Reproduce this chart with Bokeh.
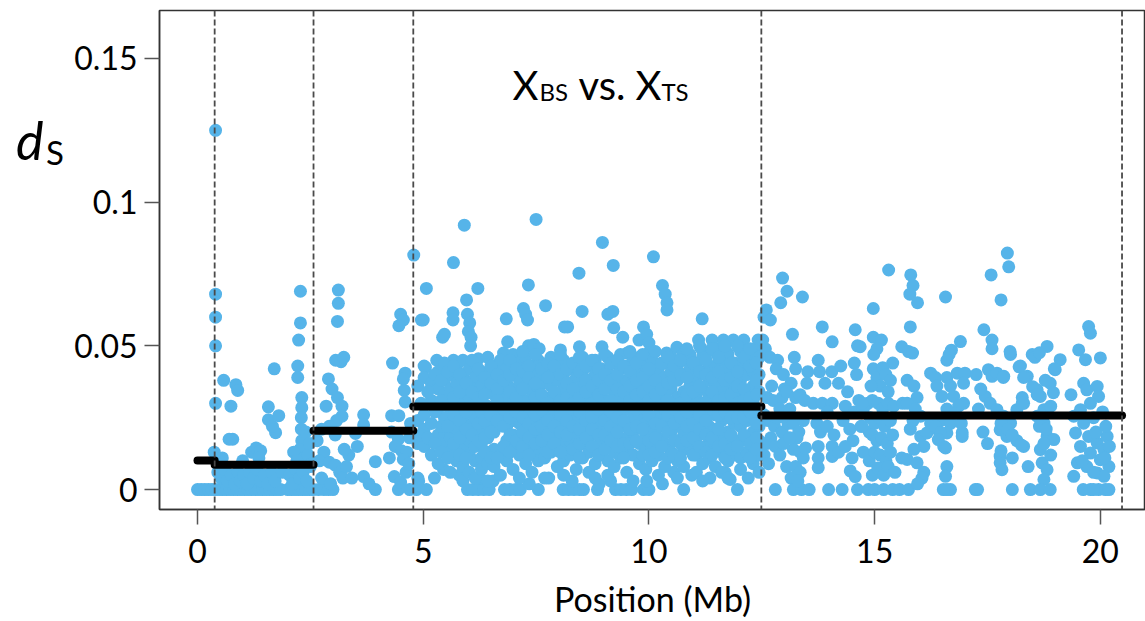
from bokeh.plotting import figure
from bokeh.models import ColumnDataSource, Span, Label, FixedTicker, Range1d, Div
from bokeh.layouts import row
from bokeh.embed import file_html
from bokeh.resources import INLINE

# ---------------- data (Position in Mb, dS) ----------------
seg1_points = [
    (0.0, 0), (0.08, 0), (0.16, 0), (0.24, 0), (0.32, 0), (0.40, 0), (0.48, 0), (0.56, 0),
    (0.64, 0), (0.72, 0), (0.80, 0), (0.88, 0), (0.96, 0), (1.04, 0), (1.12, 0), (1.20, 0),
    (1.28, 0), (1.36, 0), (1.44, 0), (1.52, 0), (1.60, 0), (1.68, 0), (1.76, 0), (1.84, 0),
    (2.00, 0), (2.08, 0), (2.16, 0), (2.24, 0), (2.32, 0), (2.40, 0), (2.48, 0), (2.56, 0),
    (0.40, 0.125), (0.40, 0.068), (0.40, 0.060), (0.40, 0.050), (0.40, 0.030), (0.37, 0.013), (0.42, 0.010),
    (0.58, 0.038), (0.85, 0.0365), (0.89, 0.0345), (0.74, 0.029), (0.70, 0.0175), (0.78, 0.0175),
    (0.45, 0.006), (0.52, 0.004), (0.60, 0.007), (0.66, 0.003), (0.75, 0.005), (0.82, 0.002),
    (0.90, 0.006), (0.95, 0.003), (1.02, 0.005), (1.10, 0.002), (1.16, 0.006), (1.24, 0.004),
    (1.32, 0.007), (1.40, 0.003), (1.48, 0.005), (1.56, 0.002), (1.64, 0.006), (1.72, 0.003),
    (1.88, 0.006), (2.04, 0.005), (2.10, 0.002), (2.18, 0.007), (2.26, 0.004), (2.34, 0.006),
    (2.42, 0.003), (2.50, 0.008),
    (0.55, 0.011), (1.00, 0.010), (1.20, 0.013), (1.30, 0.0145), (1.40, 0.0135), (1.36, 0.011),
    (1.70, 0.042), (1.57, 0.0288), (1.57, 0.0243), (1.80, 0.0257), (1.73, 0.0198), (1.66, 0.022),
    (2.28, 0.069), (2.28, 0.058), (2.24, 0.052), (2.22, 0.043), (2.22, 0.039), (2.31, 0.032),
    (2.31, 0.0285), (2.30, 0.025), (2.30, 0.021), (2.31, 0.017), (2.27, 0.014), (2.13, 0.013),
    (2.36, 0.011), (2.20, 0.010), (2.45, 0.012), (2.52, 0.009), (2.40, 0.020), (2.48, 0.016),
]

seg2_points = [
    (2.68, 0), (2.80, 0), (2.90, 0), (3.00, 0), (3.94, 0), (4.45, 0), (4.70, 0),
    (3.12, 0.0694), (3.12, 0.0648), (3.10, 0.0585), (3.06, 0.045), (3.18, 0.0445), (3.24, 0.046),
    (2.90, 0.0385), (2.98, 0.035), (3.10, 0.032), (2.85, 0.029), (3.20, 0.029), (3.20, 0.0255),
    (3.08, 0.024), (2.92, 0.022), (3.05, 0.019), (3.68, 0.026), (3.68, 0.0225), (3.50, 0.0195),
    (3.54, 0.015), (2.80, 0.013), (2.70, 0.010), (2.92, 0.0095), (3.05, 0.0085), (3.15, 0.006),
    (3.22, 0.004), (2.75, 0.004), (2.95, 0.002), (3.68, 0.0045), (3.80, 0.002), (3.94, 0.0097),
    (3.35, 0.012), (3.30, 0.008), (3.42, 0.004), (3.25, 0.014), (2.65, 0.017), (2.75, 0.021),
    (4.32, 0.044), (4.50, 0.061), (4.56, 0.059), (4.46, 0.057), (4.60, 0.0405), (4.56, 0.0385),
    (4.58, 0.0345), (4.60, 0.0305), (4.30, 0.0257), (4.46, 0.0257), (4.30, 0.020), (4.45, 0.0175),
    (4.38, 0.0150), (4.52, 0.0135), (4.64, 0.013), (4.56, 0.0105), (4.36, 0.0045), (4.50, 0.0025),
    (4.62, 0.006), (4.70, 0.018), (4.72, 0.023), (4.68, 0.009), (4.25, 0.011),
]

seg3_outliers = [
    (4.79, 0.0816), (5.07, 0.070), (4.96, 0.059), (5.00, 0.059), (5.43, 0.053), (5.05, 0.0425), (5.30, 0.045),
    (5.91, 0.092), (7.50, 0.094), (8.97, 0.086), (9.21, 0.078), (10.10, 0.081), (5.67, 0.079),
    (8.45, 0.0753), (6.21, 0.070), (7.33, 0.0712), (5.96, 0.066), (7.71, 0.064), (8.52, 0.062),
    (10.30, 0.071), (10.36, 0.068), (10.40, 0.065), (10.40, 0.0625), (9.09, 0.061), (9.20, 0.062),
    (11.18, 0.0594), (5.66, 0.0615), (5.66, 0.059), (7.22, 0.063), (7.27, 0.061), (7.31, 0.059),
    (6.84, 0.0594), (5.98, 0.061), (6.03, 0.058), (6.00, 0.055), (6.06, 0.053), (6.05, 0.050),
    (5.47, 0.054), (8.13, 0.0566), (8.20, 0.0566), (9.22, 0.0563), (9.42, 0.053), (9.78, 0.052),
    (9.88, 0.0566), (9.95, 0.054), (10.00, 0.051), (6.78, 0.0475), (6.87, 0.0514), (7.33, 0.050),
    (7.45, 0.0505), (7.57, 0.049), (8.04, 0.0486), (8.46, 0.0497), (8.96, 0.0497), (9.52, 0.0475),
    (5.67, 0.045), (6.22, 0.0455), (9.99, 0.0475), (10.39, 0.0475), (10.62, 0.0495), (10.75, 0.047),
    (10.85, 0.045), (11.10, 0.052), (11.16, 0.049), (11.25, 0.046), (11.40, 0.052), (11.50, 0.049),
    (11.58, 0.046), (11.65, 0.052), (11.87, 0.052), (12.10, 0.052), (12.03, 0.0486), (11.74, 0.0475),
    (12.42, 0.052), (12.42, 0.049),
]

seg3_band_x = [
    4.88, 5.02, 5.18, 5.33, 5.47, 5.60, 5.74, 5.88, 6.02, 6.15, 6.29, 6.43, 6.57, 6.71, 6.85,
    6.99, 7.13, 7.27, 7.41, 7.55, 7.69, 7.83, 7.97, 8.11, 8.25, 8.39, 8.53, 8.67, 8.81, 8.95,
    9.09, 9.23, 9.37, 9.51, 9.65, 9.79, 9.93, 10.07, 10.21, 10.35, 10.49, 10.63, 10.77, 10.91,
    11.05, 11.19, 11.33, 11.47, 11.61, 11.75, 11.89, 12.03, 12.17, 12.31, 12.44,
]
seg3_band_ds = [
    [0.036, 0.024, 0.016, 0.004],
    [0.043, 0.039, 0.026, 0.021, 0.015],
    [0.037, 0.031, 0.023, 0.012],
    [0.041, 0.035, 0.028, 0.019, 0.009],
    [0.044, 0.038, 0.033, 0.025, 0.020, 0.016],
    [0.040, 0.035, 0.029, 0.023, 0.018, 0.013, 0.006],
    [0.043, 0.037, 0.032, 0.026, 0.021, 0.015, 0.010],
    [0.045, 0.040, 0.034, 0.030, 0.024, 0.019, 0.014, 0.008, 0.003],
    [0.042, 0.037, 0.032, 0.027, 0.022, 0.017, 0.012, 0.006],
    [0.044, 0.039, 0.035, 0.029, 0.025, 0.020, 0.015, 0.010, 0.004],
    [0.041, 0.036, 0.031, 0.027, 0.021, 0.016, 0.011, 0.007],
    [0.046, 0.040, 0.034, 0.029, 0.023, 0.018, 0.013, 0.009, 0.003],
    [0.043, 0.038, 0.033, 0.028, 0.020, 0.014, 0.008],
    [0.045, 0.041, 0.035, 0.031, 0.025, 0.012, 0.005],
    [0.042, 0.037, 0.032, 0.027, 0.022, 0.017, 0.010],
    [0.047, 0.040, 0.035, 0.030, 0.024, 0.019, 0.014, 0.007],
    [0.044, 0.038, 0.033, 0.028, 0.023, 0.017, 0.012, 0.004],
    [0.046, 0.041, 0.036, 0.031, 0.026, 0.021, 0.015, 0.009],
    [0.043, 0.039, 0.034, 0.029, 0.024, 0.018, 0.013, 0.006],
    [0.045, 0.040, 0.035, 0.030, 0.025, 0.020, 0.014, 0.010],
    [0.042, 0.037, 0.032, 0.027, 0.022, 0.016, 0.011, 0.004],
    [0.046, 0.041, 0.036, 0.031, 0.025, 0.019, 0.013],
    [0.043, 0.038, 0.033, 0.028, 0.023, 0.018, 0.008],
    [0.045, 0.040, 0.035, 0.030, 0.026, 0.021, 0.015, 0.010, 0.005],
    [0.042, 0.037, 0.032, 0.027, 0.017, 0.012],
    [0.044, 0.039, 0.034, 0.029, 0.024, 0.019, 0.014, 0.007],
    [0.046, 0.041, 0.036, 0.031, 0.026, 0.021, 0.016, 0.011],
    [0.043, 0.038, 0.033, 0.028, 0.023, 0.018, 0.013, 0.006],
    [0.045, 0.040, 0.035, 0.030, 0.025, 0.020, 0.015, 0.009, 0.004],
    [0.042, 0.037, 0.032, 0.027, 0.022, 0.017, 0.012],
    [0.046, 0.041, 0.036, 0.031, 0.026, 0.021, 0.016, 0.010, 0.005],
    [0.044, 0.039, 0.034, 0.029, 0.024, 0.019, 0.013, 0.008],
    [0.047, 0.042, 0.037, 0.032, 0.027, 0.022, 0.017, 0.011],
    [0.043, 0.038, 0.033, 0.028, 0.023, 0.018, 0.014, 0.006],
    [0.045, 0.040, 0.035, 0.030, 0.025, 0.020, 0.012, 0.003],
    [0.046, 0.041, 0.036, 0.031, 0.026, 0.016, 0.009],
    [0.043, 0.038, 0.033, 0.028, 0.023, 0.019, 0.014, 0.007],
    [0.045, 0.040, 0.035, 0.030, 0.025, 0.020, 0.015, 0.010],
    [0.042, 0.037, 0.031, 0.026, 0.018, 0.012, 0.005],
    [0.044, 0.039, 0.033, 0.028, 0.023, 0.016, 0.008],
    [0.046, 0.041, 0.035, 0.030, 0.025, 0.020, 0.013],
    [0.043, 0.038, 0.032, 0.027, 0.022, 0.017, 0.010, 0.004],
    [0.045, 0.040, 0.034, 0.029, 0.024, 0.019, 0.014, 0.008],
    [0.047, 0.042, 0.036, 0.031, 0.026, 0.021, 0.015],
    [0.044, 0.039, 0.033, 0.028, 0.023, 0.018, 0.012, 0.006],
    [0.046, 0.041, 0.035, 0.030, 0.025, 0.020, 0.014, 0.009, 0.003],
    [0.043, 0.038, 0.032, 0.027, 0.022, 0.016, 0.011],
    [0.048, 0.043, 0.037, 0.031, 0.026, 0.021, 0.015, 0.008],
    [0.045, 0.040, 0.034, 0.029, 0.024, 0.018, 0.013, 0.006],
    [0.047, 0.042, 0.036, 0.030, 0.025, 0.020, 0.014, 0.010, 0.004],
    [0.044, 0.039, 0.034, 0.028, 0.023, 0.017, 0.012],
    [0.048, 0.043, 0.038, 0.032, 0.027, 0.022, 0.017, 0.011, 0.007],
    [0.045, 0.040, 0.034, 0.029, 0.024, 0.018, 0.013],
    [0.047, 0.041, 0.036, 0.031, 0.025, 0.020, 0.015, 0.009],
    [0.046, 0.040, 0.034, 0.028, 0.022, 0.017, 0.012, 0.006],
]

# in-between points of the dense band (a second, offset layer)
seg3_fill_x = [
    4.95, 5.10, 5.26, 5.40, 5.54, 5.67, 5.81, 5.95, 6.08, 6.22, 6.36, 6.50, 6.64, 6.78, 6.92,
    7.06, 7.20, 7.34, 7.48, 7.62, 7.76, 7.90, 8.04, 8.18, 8.32, 8.46, 8.60, 8.74, 8.88, 9.02,
    9.16, 9.30, 9.44, 9.58, 9.72, 9.86, 10.00, 10.14, 10.28, 10.42, 10.56, 10.70, 10.84, 10.98,
    11.12, 11.26, 11.40, 11.54, 11.68, 11.82, 11.96, 12.10, 12.24, 12.38,
]
seg3_fill_ds = [
    [0.030, 0.019],
    [0.034, 0.018],
    [0.040, 0.027, 0.016],
    [0.038, 0.031, 0.022, 0.013],
    [0.041, 0.029, 0.022, 0.011],
    [0.043, 0.032, 0.026, 0.016],
    [0.040, 0.034, 0.024, 0.018, 0.012],
    [0.037, 0.027, 0.021, 0.011],
    [0.045, 0.034, 0.029, 0.019],
    [0.042, 0.032, 0.023, 0.017],
    [0.039, 0.033, 0.024, 0.018, 0.013],
    [0.043, 0.037, 0.026, 0.020, 0.011],
    [0.040, 0.035, 0.031, 0.024, 0.011],
    [0.038, 0.028, 0.022, 0.015],
    [0.045, 0.040, 0.034, 0.025, 0.019, 0.013],
    [0.042, 0.032, 0.027, 0.017],
    [0.048, 0.041, 0.035, 0.025, 0.020, 0.015],
    [0.043, 0.039, 0.029, 0.023, 0.018, 0.012],
    [0.047, 0.037, 0.032, 0.026, 0.021, 0.016],
    [0.042, 0.033, 0.028, 0.022, 0.017],
    [0.044, 0.039, 0.030, 0.024, 0.019, 0.013],
    [0.043, 0.034, 0.028, 0.022, 0.016],
    [0.047, 0.040, 0.031, 0.026, 0.020, 0.013],
    [0.042, 0.037, 0.032, 0.024, 0.019],
    [0.044, 0.035, 0.030, 0.022, 0.014],
    [0.046, 0.041, 0.032, 0.027, 0.021, 0.016, 0.011],
    [0.043, 0.038, 0.034, 0.024, 0.018],
    [0.045, 0.036, 0.030, 0.025, 0.021, 0.015],
    [0.042, 0.038, 0.033, 0.028, 0.019, 0.012],
    [0.047, 0.040, 0.035, 0.024, 0.019, 0.014],
    [0.044, 0.038, 0.031, 0.027, 0.022, 0.017],
    [0.045, 0.040, 0.035, 0.025, 0.020, 0.015],
    [0.043, 0.034, 0.029, 0.024, 0.016, 0.011],
    [0.048, 0.041, 0.036, 0.031, 0.021, 0.016],
    [0.044, 0.038, 0.033, 0.028, 0.022, 0.017],
    [0.047, 0.039, 0.034, 0.029, 0.021, 0.012],
    [0.042, 0.036, 0.031, 0.026, 0.017, 0.012],
    [0.048, 0.038, 0.033, 0.023, 0.018, 0.013],
    [0.044, 0.035, 0.029, 0.022, 0.015],
    [0.046, 0.037, 0.031, 0.026, 0.020, 0.011],
    [0.043, 0.038, 0.028, 0.023, 0.017, 0.012],
    [0.045, 0.040, 0.030, 0.025, 0.016, 0.011],
    [0.049, 0.039, 0.033, 0.027, 0.022, 0.017],
    [0.044, 0.034, 0.029, 0.023, 0.018, 0.012],
    [0.050, 0.041, 0.036, 0.026, 0.021, 0.015],
    [0.045, 0.040, 0.030, 0.024, 0.019, 0.013],
    [0.049, 0.039, 0.034, 0.028, 0.018, 0.012],
    [0.046, 0.041, 0.031, 0.026, 0.021, 0.015],
    [0.050, 0.038, 0.032, 0.027, 0.016, 0.011],
    [0.044, 0.039, 0.033, 0.025, 0.019, 0.014],
    [0.050, 0.041, 0.036, 0.030, 0.025, 0.015],
    [0.046, 0.035, 0.031, 0.025, 0.019],
    [0.049, 0.043, 0.032, 0.027, 0.016, 0.011],
    [0.044, 0.038, 0.033, 0.023, 0.018, 0.014],
]

seg3_low_points = [
    (4.85, 0), (5.07, 0), (4.90, 0.003), (5.25, 0.004), (5.45, 0.007), (5.80, 0.005),
    (5.98, 0), (6.10, 0), (6.22, 0), (6.34, 0), (6.46, 0), (6.80, 0), (6.92, 0), (7.05, 0),
    (7.15, 0), (7.55, 0), (8.10, 0), (8.22, 0), (8.34, 0), (8.46, 0), (8.55, 0), (8.86, 0),
    (9.26, 0), (9.38, 0), (9.50, 0), (9.62, 0), (9.88, 0), (10.00, 0), (10.77, 0), (11.96, 0),
    (6.25, 0.004), (6.55, 0.003), (7.35, 0.002), (7.78, 0.004), (8.30, 0.003), (8.90, 0.002),
    (9.15, 0.003), (9.95, 0.003), (10.30, 0.002), (10.55, 0.006), (10.95, 0.005), (11.35, 0.004),
    (11.69, 0.0059), (11.80, 0.0035), (12.20, 0.004),
]

seg4_points = [
    (12.96, 0.0736), (13.06, 0.069), (12.92, 0.065), (13.40, 0.067), (12.60, 0.0625), (12.55, 0.060),
    (12.69, 0.059), (13.18, 0.054), (12.52, 0.052), (12.58, 0.049), (12.68, 0.046),
    (12.85, 0.045), (12.82, 0.042), (12.98, 0.040), (13.22, 0.046), (13.25, 0.042), (13.15, 0.037),
    (13.00, 0.035), (13.52, 0.041), (13.50, 0.037),
    (12.62, 0.032), (12.75, 0.031), (12.95, 0.032), (13.05, 0.034), (13.25, 0.032), (13.35, 0.033), (13.45, 0.031),
    (12.55, 0.026), (12.65, 0.024), (12.78, 0.022), (12.85, 0.025), (12.95, 0.020), (13.08, 0.023),
    (13.20, 0.023), (13.32, 0.020), (12.70, 0.018), (12.60, 0.016), (12.80, 0.015), (13.28, 0.018),
    (13.20, 0.014), (13.35, 0.013), (12.55, 0.012), (12.65, 0.009), (12.90, 0.012), (13.05, 0.008),
    (13.25, 0.008), (13.35, 0.006), (13.15, 0.004), (12.80, 0), (13.20, 0), (13.38, 0), (13.55, 0), (13.30, 0.003),
    (12.72, 0.036), (12.90, 0.028), (13.12, 0.028), (13.42, 0.024), (12.98, 0.016), (13.12, 0.018),
    (13.84, 0.0566), (14.06, 0.0514), (14.57, 0.0556), (14.62, 0.050), (14.97, 0.063),
    (13.75, 0.045), (13.78, 0.041), (14.05, 0.041), (13.90, 0.037), (14.25, 0.043), (14.20, 0.037),
    (14.55, 0.044), (14.60, 0.040), (14.40, 0.034), (14.65, 0.031), (14.85, 0.030),
    (13.64, 0.030), (13.84, 0.030), (14.06, 0.030), (13.95, 0.027), (14.35, 0.029), (14.55, 0.027), (14.75, 0.028),
    (13.72, 0.023), (13.80, 0.020), (13.95, 0.022), (14.10, 0.019), (14.30, 0.024), (14.45, 0.021),
    (14.52, 0.017), (14.70, 0.022), (14.88, 0.020),
    (13.75, 0.015), (13.75, 0.011), (13.75, 0.0076), (14.06, 0.015), (14.06, 0.0115), (13.42, 0.011),
    (13.47, 0.0145), (14.20, 0.013), (14.35, 0.015), (14.50, 0.011), (14.46, 0.0065), (14.57, 0.0045),
    (14.75, 0.013), (14.88, 0.010), (14.95, 0.005),
    (13.98, 0), (14.28, 0), (14.62, 0), (14.86, 0),
    (15.31, 0.0764), (15.80, 0.0747), (15.85, 0.071), (15.78, 0.068), (15.95, 0.065), (15.79, 0.0566), (16.57, 0.067),
    (14.97, 0.053), (15.15, 0.052), (15.05, 0.049), (14.98, 0.047), (14.68, 0.0497), (15.60, 0.0497),
    (15.75, 0.048), (15.84, 0.0475), (15.40, 0.044),
    (14.97, 0.042), (15.05, 0.039), (15.18, 0.0424), (15.25, 0.040), (15.12, 0.036), (14.92, 0.036),
    (15.30, 0.034), (15.35, 0.038), (14.95, 0.031), (15.08, 0.030), (15.18, 0.028), (15.30, 0.030),
    (15.42, 0.029), (14.72, 0.030), (15.62, 0.030), (14.90, 0.025), (15.00, 0.023), (15.10, 0.025),
    (15.22, 0.022), (15.35, 0.024), (14.72, 0.022), (14.95, 0.019), (15.05, 0.017), (15.15, 0.018),
    (15.28, 0.016), (15.40, 0.019), (15.00, 0.013), (15.12, 0.012), (15.25, 0.010), (15.35, 0.013),
    (15.07, 0.0075), (15.20, 0.005), (15.30, 0.008), (15.45, 0.006), (15.60, 0.011),
    (15.00, 0), (15.20, 0), (15.40, 0), (15.55, 0), (15.75, 0),
    (15.72, 0.038), (15.87, 0.036), (15.94, 0.032), (15.72, 0.030), (15.90, 0.028), (16.02, 0.0255),
    (15.79, 0.021), (16.02, 0.0185), (16.09, 0.015), (15.87, 0.014), (15.72, 0.0105), (15.94, 0.0093),
    (16.09, 0.006), (16.24, 0.023), (16.16, 0.0197), (15.85, 0.024), (16.05, 0.004), (15.95, 0.002),
    (16.90, 0.0515), (16.70, 0.0485), (16.65, 0.047), (16.60, 0.045),
    (16.24, 0.0405), (16.35, 0.039), (16.60, 0.039), (16.83, 0.0405), (17.00, 0.0405), (16.38, 0.036),
    (16.68, 0.036), (16.97, 0.037), (16.49, 0.0324), (16.75, 0.0324), (16.97, 0.030), (16.60, 0.028),
    (16.86, 0.029), (16.46, 0.024), (16.68, 0.023), (16.38, 0.021), (16.60, 0.0197), (16.94, 0.0185),
    (16.53, 0.015), (16.60, 0.008), (16.57, 0.0046), (16.60, 0), (16.68, 0), (16.35, 0.022),
    (16.46, 0.0198), (16.41, 0.0174), (16.57, 0.0145), (16.94, 0.0198), (16.92, 0.023), (16.78, 0.0265),
    (17.23, 0), (16.52, 0),
    (17.94, 0.0823), (17.97, 0.0775), (17.58, 0.0747), (17.80, 0.066),
    (17.42, 0.0556), (17.60, 0.052), (17.60, 0.049), (18.01, 0.047), (17.52, 0.0417), (17.60, 0.0394),
    (17.71, 0.0405), (17.86, 0.0394), (17.45, 0.0324), (17.56, 0.030), (17.71, 0.0278), (17.86, 0.0255),
    (18.01, 0.0231), (17.78, 0.0208), (17.93, 0.0185), (18.15, 0.017), (18.30, 0.015), (17.78, 0.0116),
    (17.78, 0.0093), (17.82, 0.0069), (18.15, 0.0278), (18.30, 0.030), (18.23, 0.043), (18.38, 0.0394),
    (18.49, 0.047), (18.60, 0.0347), (18.67, 0.0324), (18.75, 0.0278), (18.60, 0.0255), (18.75, 0.0231),
    (18.82, 0.0185), (18.67, 0.0139), (18.71, 0.0093), (18.82, 0.0069), (18.75, 0.0035), (18.05, 0),
    (18.45, 0), (18.67, 0), (18.89, 0), (17.28, 0), (18.97, 0.0174), (19.00, 0.0417), (19.11, 0.0452),
    (18.82, 0.0498), (18.89, 0.037),
    (18.00, 0.048), (18.55, 0.046), (18.65, 0.0476), (18.20, 0.0427), (18.30, 0.039), (17.85, 0.039),
    (18.98, 0.042), (18.78, 0.038), (18.50, 0.0358), (18.60, 0.033), (18.96, 0.0337), (18.27, 0.032),
    (18.27, 0.030), (18.90, 0.029), (17.80, 0.023), (17.95, 0.021), (18.05, 0.019), (18.65, 0.022),
    (18.80, 0.021), (18.75, 0.016), (18.90, 0.012), (18.25, 0.0155), (17.80, 0.0135), (18.05, 0.011),
    (18.40, 0.008), (17.30, 0.028), (17.35, 0.035), (17.25, 0.040), (17.40, 0.020), (17.50, 0.016),
    (19.52, 0.0486), (19.67, 0.0452), (19.74, 0.0567), (19.78, 0.0544), (20.00, 0.0458), (19.63, 0.037),
    (19.70, 0.0347), (19.93, 0.0359), (19.96, 0.0324), (19.78, 0.030), (19.56, 0.0278), (19.41, 0.0255),
    (19.63, 0.0231), (19.45, 0.0197), (19.74, 0.0185), (19.93, 0.0162), (20.15, 0.0185), (19.56, 0.015),
    (19.78, 0.0127), (20.08, 0.0139), (20.00, 0.0104), (19.49, 0.0093), (19.70, 0.008), (20.19, 0.008),
    (19.41, 0.0046), (19.93, 0.0058), (20.08, 0.0046), (19.62, 0), (19.78, 0), (19.96, 0), (20.11, 0),
    (19.85, 0), (20.19, 0),
    (19.85, 0.025), (20.05, 0.027), (20.12, 0.022), (19.35, 0.033), (19.90, 0.020), (20.10, 0.011),
    (19.60, 0.010), (19.85, 0.006), (20.20, 0.015),
]

boundaries = [0.0, 0.38, 2.57, 4.78, 12.49, 20.48]
segment_means = [0.0101, 0.0086, 0.0205, 0.0289, 0.0258]
x_ticks = [0, 5, 10, 15, 20]
y_ticks = [0, 0.05, 0.1, 0.15]
y_tick_labels = ["0", "0.05", "0.1", "0.15"]

# ---------------- assemble ----------------
pos, ds = [], []
for pts in (seg1_points, seg2_points, seg3_outliers, seg3_low_points, seg4_points):
    for x, y in pts:
        pos.append(x)
        ds.append(y)
for xs_, cols in ((seg3_band_x, seg3_band_ds), (seg3_fill_x, seg3_fill_ds)):
    for x, col in zip(xs_, cols):
        for y in col:
            pos.append(x)
            ds.append(y)

src = ColumnDataSource(data=dict(pos=pos, ds=ds))
seg_src = ColumnDataSource(data=dict(x0=boundaries[:-1], x1=boundaries[1:], y=segment_means))

FONT = "Lato"
LEFT_W = 70

fig = figure(width=1145 - LEFT_W, height=621, output_backend="svg", toolbar_location=None,
             x_range=Range1d(-0.842, 21.0), y_range=Range1d(-0.00694, 0.1667),
             min_border_left=159 - LEFT_W, min_border_right=0, min_border_top=10,
             min_border_bottom=111, margin=0)
fig.xgrid.visible = False
fig.ygrid.visible = False
fig.background_fill_color = "white"
fig.border_fill_color = "white"
fig.outline_line_color = "#333333"
fig.outline_line_width = 1.5

fig.scatter("pos", "ds", source=src, size=13, fill_color="#56B4E9", line_color=None)

for b in boundaries[1:]:
    fig.add_layout(Span(location=b, dimension="height", line_color="#4a4a4a",
                        line_width=1.8, line_dash="6 3"))

fig.segment(x0="x0", y0="y", x1="x1", y1="y", source=seg_src,
            line_color="black", line_width=8, line_cap="round")

for ax in (fig.xaxis[0], fig.yaxis[0]):
    ax.axis_line_color = "#333333"
    ax.axis_line_width = 1.5
    ax.major_tick_line_color = "#555555"
    ax.major_tick_line_width = 1.5
    ax.major_tick_out = 15
    ax.major_tick_in = 0
    ax.minor_tick_out = 0
    ax.minor_tick_in = 0
    ax.major_label_text_font = FONT
    ax.major_label_text_font_size = "32px"
    ax.major_label_text_color = "black"

fig.xaxis.ticker = FixedTicker(ticks=x_ticks)
fig.yaxis.ticker = FixedTicker(ticks=y_ticks)
fig.yaxis.major_label_overrides = {t: lab for t, lab in zip(y_ticks, y_tick_labels)}
fig.yaxis.major_label_standoff = 7
fig.xaxis.major_label_standoff = 14
fig.xaxis.axis_label = "Position (Mb)"
fig.xaxis.axis_label_text_font = FONT
fig.xaxis.axis_label_text_font_size = "34px"
fig.xaxis.axis_label_text_font_style = "normal"
fig.xaxis.axis_label_text_color = "black"
fig.xaxis.axis_label_standoff = 12

# title  X_BS vs. X_TS  (anchored at x=7.0)
ty = 0.1408
big, small = "40px", "24px"
for txt, dx, dy, size in (("X", -1, 0, big), ("BS", 26, -7, small), ("vs.", 65, 0, big),
                          ("X", 122, 0, big), ("TS", 148, -7, small)):
    fig.add_layout(Label(x=7.0, y=ty, x_offset=dx, y_offset=dy, text=txt, text_font=FONT,
                         text_font_size=size, text_color="black", text_baseline="alphabetic"))

# y-axis label  d_S  (placed in a narrow column left of the plot)
ylabel_html = (
    '<div style="position:relative;width:70px;height:621px;font-family:Lato;color:black;">'
    '<span style="position:absolute;left:16px;top:114px;font-size:52px;font-style:italic;'
    'line-height:52px;">d</span>'
    '<span style="position:absolute;left:46px;top:136px;font-size:33px;line-height:33px;">S</span>'
    '</div>'
)
label_div = Div(text=ylabel_html, width=LEFT_W, height=621, margin=0)

p = row(label_div, fig, spacing=0)

open("out.html", "w").write(file_html(p, INLINE))
